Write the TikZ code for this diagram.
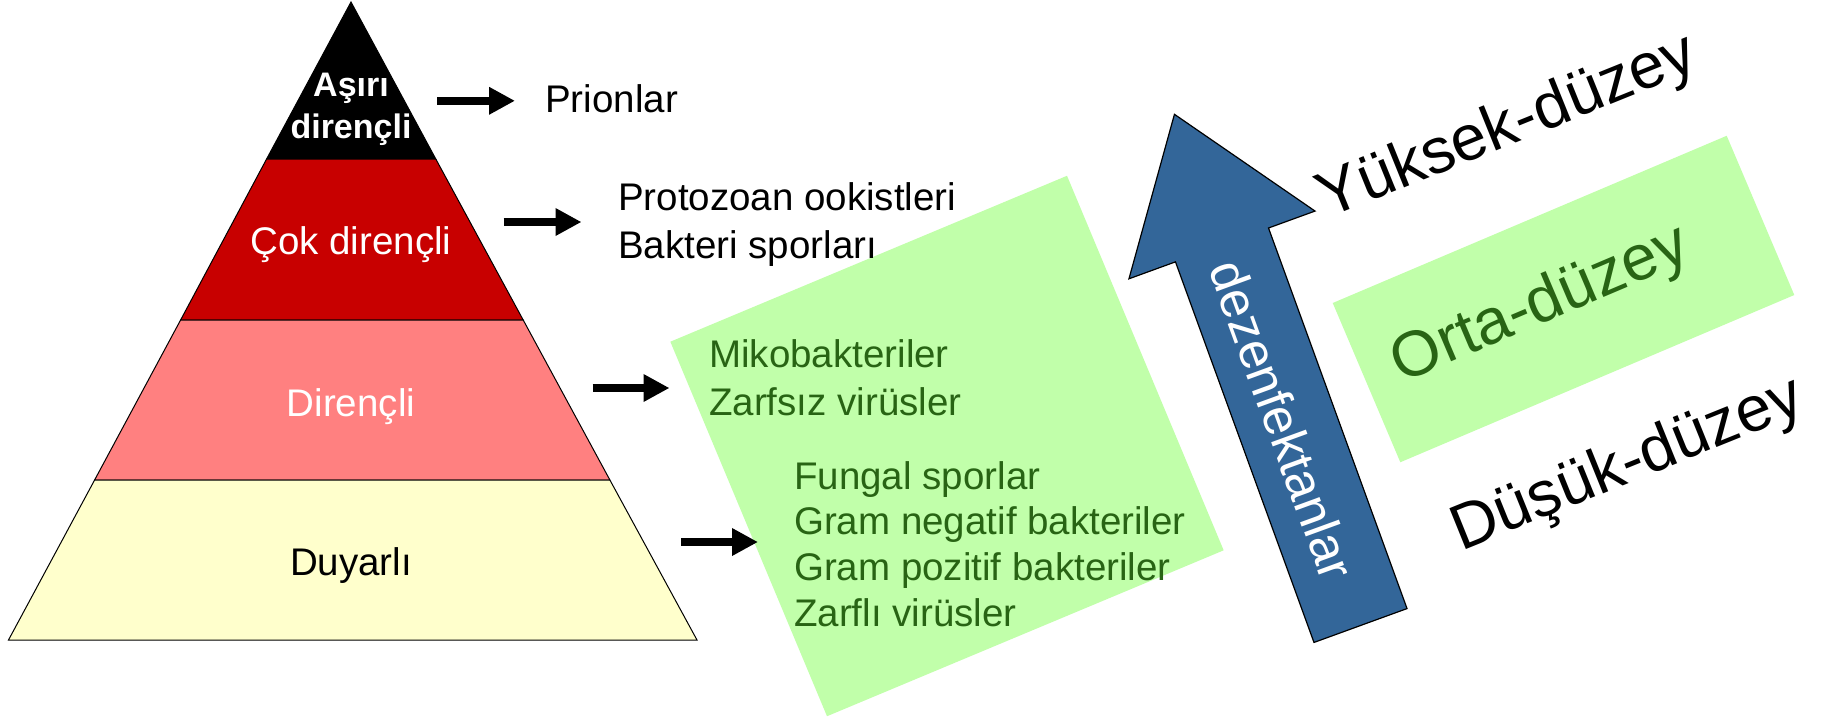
\documentclass[tikz,border=0pt]{standalone}
\usepackage{fontspec}
\setmainfont{Liberation Sans}
\usetikzlibrary{arrows.meta}
\definecolor{pyrred}{RGB}{200,0,0}
\definecolor{pyrpink}{RGB}{255,128,128}
\definecolor{pyryellow}{RGB}{255,255,204}
\definecolor{boxgreen}{RGB}{193,255,170}
\definecolor{txtgreen}{RGB}{40,100,20}
\definecolor{arrowblue}{RGB}{51,102,153}
\tikzset{
  layer/.style={draw=black, line width=1pt},
  lbl/.style={inner sep=0pt, font=\fontsize{38.5}{46}\selectfont},
  glbl/.style={lbl, text=txtgreen, align=left},
  big/.style={inner sep=0pt, font=\fontsize{64}{76}\selectfont},
  blk/.style={line width=8.3pt, -{Triangle[length=26pt,width=26pt]}},
  greenbox/.style={fill=boxgreen, draw=none, inner sep=0pt},
}
\begin{document}
\begin{tikzpicture}[x=1pt,y=-1pt]
\useasboundingbox (0,0) rectangle (1835,721);
% pyramid layers
\path[layer, fill=black] (351,2) -- (435.8,159) -- (266.6,159) -- cycle;
\path[layer, fill=pyrred] (266.6,159) -- (435.8,159) -- (523.2,320) -- (180.6,320) -- cycle;
\path[layer, fill=pyrpink] (180.6,320) -- (523.2,320) -- (609.9,480) -- (94.6,480) -- cycle;
\path[layer, fill=pyryellow] (94.6,480) -- (609.9,480) -- (697,640) -- (8.5,640) -- cycle;
% pyramid labels
\node[inner sep=0pt, text=white, align=center, font=\fontsize{34}{41.5}\bfseries\selectfont, anchor=base] (asiri) at (351,138) {Aşırı\\dirençli};
\node[lbl, text=white, anchor=base] (cok) at (351,254) {Çok dirençli};
\node[lbl, text=white, anchor=base] (dir) at (351,416.5) {Dirençli};
\node[lbl, anchor=base] (duy) at (351,575.5) {Duyarlı};
% green boxes
\node[greenbox, rotate=22.7, minimum width=430pt, minimum height=406pt] (box1) at (947,446) {};
\node[greenbox, rotate=23, minimum width=428pt, minimum height=173pt] (box2) at (1563.5,299) {};
% right-hand texts (base anchor = baseline of last line)
\node[lbl, anchor=base west] (prion) at (545,112.5) {Prionlar};
\node[lbl, anchor=base west, align=left, font=\fontsize{38.5}{47.5}\selectfont] (proto) at (618,258) {Protozoan ookistleri\\Bakteri sporları};
\node[glbl, anchor=base west, font=\fontsize{38.5}{48}\selectfont] (miko) at (709,415.5) {Mikobakteriler\\Zarfsız virüsler};
\node[glbl, anchor=base west, font=\fontsize{38.5}{45.8}\selectfont] (fung) at (794,626.5) {Fungal sporlar\\Gram negatif bakteriler\\Gram pozitif bakteriler\\Zarflı virüsler};
% black arrows
\coordinate (a1s) at (437.3,100.8); \coordinate (a1e) at (515,100.8);
\coordinate (a2s) at (503.5,222); \coordinate (a2e) at (581.5,222);
\coordinate (a3s) at (592.5,388); \coordinate (a3e) at (669.5,388);
\coordinate (a4s) at (681,542); \coordinate (a4e) at (758,542);
\draw[blk] (a1s) -- (a1e);
\draw[blk] (a2s) -- (a2e);
\draw[blk] (a3s) -- (a3e);
\draw[blk] (a4s) -- (a4e);
% blue arrow
\begin{scope}[shift={(1360.5,625.5)}, rotate=20]
\path[draw=black, line width=1.2pt, fill=arrowblue]
  (-49.5,0) -- (-49.5,-405) -- (-99,-405) -- (0,-544) -- (99,-405) -- (49.5,-405) -- (49.5,0) -- cycle;
\node[inner sep=0pt, text=white, rotate=-70, font=\fontsize{51}{60}\selectfont] (dez) at (-3,-220) {dezenfektanlar};
\end{scope}
% level labels
\node[big, rotate=22] (yuk) at (1508,128) {Yüksek-düzey};
\node[big, rotate=23, text=txtgreen] (orta) at (1541,306) {Orta-düzey};
\node[big, rotate=22] (dus) at (1628,466) {Düşük-düzey};
\end{tikzpicture}
\end{document}
